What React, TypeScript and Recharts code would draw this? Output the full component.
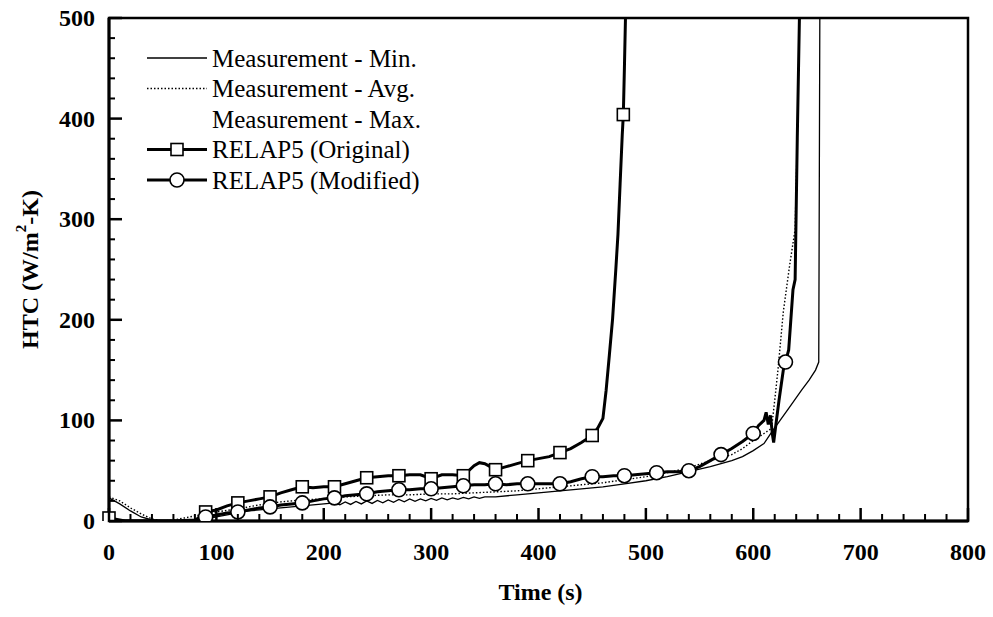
import { ComposedChart, Line, Scatter, XAxis, YAxis, ReferenceArea, Legend } from 'recharts'

const serif = '"Liberation Serif", "Times New Roman", serif'

// tick labels
const xMajorTicks = [0, 100, 200, 300, 400, 500, 600, 700, 800]
const yMajorTicks = [0, 100, 200, 300, 400, 500]
const minorStep = 20

const seriesNames = [
  'Measurement - Min.',
  'Measurement - Avg.',
  'Measurement - Max.',
  'RELAP5 (Original)',
  'RELAP5 (Modified)'
]

// Measurement - Min. (thin solid)
const minTime = [0, 10, 20, 30, 40, 50, 60, 70, 80, 90, 100, 110, 120, 130, 140, 150, 160, 170, 180, 190, 200,
  210, 215, 220, 225, 230, 235, 240, 245, 250, 255, 260, 265, 270, 275, 280, 285, 290, 295, 300, 305, 310, 315,
  320, 325, 330, 335, 340, 345, 350, 360, 380, 400, 420, 440, 460, 480, 500, 520, 540, 560, 580, 590, 600, 610,
  617, 625, 635, 645, 652, 658, 661, 662]
const minHtc = [23, 17, 10, 4, 1, 0, 0, 0, 1, 2, 4, 6, 8, 10, 11, 12, 13, 14, 15, 16, 17,
  18, 16, 19, 16.5, 19.5, 17, 20, 17.5, 20.5, 18, 21, 18.5, 21.5, 19, 22, 19.5, 22, 20, 22.5, 20.5, 23, 21,
  23, 21.5, 23.5, 22, 24, 22.5, 24, 24, 26, 28, 30, 32, 34, 37, 40, 44, 49, 54, 60, 64, 70, 77,
  88, 100, 115, 130, 140, 150, 158, 500]

// Measurement - Avg. (dotted)
const avgTime = [0, 10, 20, 30, 40, 50, 60, 70, 80, 90, 100, 120, 140, 160, 180, 200, 220, 240, 260, 280, 300,
  320, 340, 360, 380, 400, 420, 440, 460, 480, 500, 520, 540, 560, 580, 590, 600, 610, 617, 620, 623, 628, 634,
  639, 641, 643]
const avgHtc = [24, 20, 13, 7, 2, 0, 1, 3, 5, 7, 9, 12, 16, 19, 21, 22, 24, 25, 26, 26, 27,
  27, 28, 29, 30, 32, 34, 36, 38, 41, 44, 48, 53, 60, 66, 72, 80, 87, 92, 120, 150, 208, 255,
  290, 380, 500]

// RELAP5 (Original)
const origTime = [0, 15, 80, 85, 90, 100, 110, 120, 130, 140, 150, 160, 170, 180, 190, 200, 210, 220, 230, 240,
  250, 260, 270, 280, 290, 300, 310, 320, 330, 340, 345, 350, 355, 360, 370, 380, 390, 400, 410, 420, 430, 440,
  450, 455, 460, 463, 466, 469, 472, 474, 476, 478, 479, 480, 481]
const origHtc = [3, 0, 0, 5, 9, 11, 15, 18, 20, 22, 24, 28, 31, 34, 33, 34, 34, 37, 40, 43,
  44, 45, 45, 46, 46, 42, 46, 46, 45, 55, 58, 57, 54, 51, 54, 57, 60, 62, 64, 68, 72, 78,
  85, 92, 102, 130, 165, 201, 250, 285, 335, 384, 404, 450, 500]
const origMarkTime = [0, 90, 120, 150, 180, 210, 240, 270, 300, 330, 360, 390, 420, 450, 479]
const origMarkHtc = [3, 9, 18, 24, 34, 34, 43, 45, 42, 45, 51, 60, 68, 85, 404]

// RELAP5 (Modified)
const modTime = [0, 60, 80, 90, 100, 110, 120, 130, 140, 150, 160, 170, 180, 190, 200, 210, 220, 230, 240, 250,
  260, 270, 280, 290, 300, 310, 320, 330, 340, 350, 360, 370, 380, 390, 400, 410, 420, 430, 440, 450, 460, 470,
  480, 490, 500, 510, 520, 530, 540, 550, 560, 570, 580, 590, 600, 605, 610, 612, 614, 616, 618, 619, 621, 624,
  628, 630, 633, 635, 637, 639, 641, 643]
const modHtc = [0, 0, 1, 4, 6, 8, 9, 11, 13, 14, 16, 17, 18, 20, 22, 23, 25, 26, 27, 29,
  30, 31, 31, 32, 32, 33, 34, 35, 36, 36, 37, 36, 37, 37, 37, 37, 37, 39, 42, 44, 44, 45,
  45, 46, 47, 48, 49, 49, 50, 54, 60, 66, 72, 79, 87, 95, 100, 108, 96, 105, 85, 78, 95, 120,
  150, 158, 170, 200, 230, 240, 380, 500]
const modMarkTime = [90, 120, 150, 180, 210, 240, 270, 300, 330, 360, 390, 420, 450, 480, 510, 540, 570, 600, 630]
const modMarkHtc = [4, 9, 14, 18, 23, 27, 31, 32, 35, 37, 37, 37, 44, 45, 48, 50, 66, 87, 158]

const zip = (t: number[], v: number[]) => t.map((time, i) => ({ t: time, v: v[i] }))

function withMinor(major: number[]) {
  const out: number[] = []
  for (let i = 0; i < major.length - 1; i++) {
    for (let v = major[i]; v < major[i + 1]; v += minorStep) out.push(v)
  }
  out.push(major[major.length - 1])
  return out
}

function TimeTick({ x, y, payload }: any) {
  const major = xMajorTicks.includes(payload.value)
  return (
    <g>
      <line x1={x} x2={x} y1={y} y2={y - (major ? 13 : 7)} stroke="#000" strokeWidth={major ? 2.5 : 2} />
      {major && (
        <text x={x} y={y + 31} textAnchor="middle" dominantBaseline="central"
          fontFamily={serif} fontWeight="bold" fontSize={24} fill="#000">
          {payload.value}
        </text>
      )}
    </g>
  )
}

function HtcTick({ x, y, payload }: any) {
  const major = yMajorTicks.includes(payload.value)
  return (
    <g>
      <line x1={x} x2={x + (major ? 13 : 6)} y1={y} y2={y} stroke="#000" strokeWidth={major ? 2.5 : 2} />
      {major && (
        <text x={x - 14} y={y} textAnchor="end" dominantBaseline="central"
          fontFamily={serif} fontWeight="bold" fontSize={24} fill="#000">
          {payload.value}
        </text>
      )}
    </g>
  )
}

function TimeTitle({ viewBox }: any) {
  return (
    <text x={viewBox.x + viewBox.width / 2 + 2} y={viewBox.y + 71} textAnchor="middle" dominantBaseline="central"
      fontFamily={serif} fontWeight="bold" fontSize={24} fill="#000">
      Time (s)
    </text>
  )
}

function HtcTitle({ viewBox }: any) {
  const cx = viewBox.x + viewBox.width - 79
  const cy = viewBox.y + viewBox.height / 2
  return (
    <text x={cx} y={cy} transform={`rotate(-90 ${cx} ${cy})`} textAnchor="middle" dominantBaseline="central"
      fontFamily={serif} fontWeight="bold" fontSize={24} fill="#000">
      HTC (W/m<tspan dy={-9} fontSize={15}>2</tspan><tspan dy={9}>-K)</tspan>
    </text>
  )
}

function LegendBox() {
  const rowY = (i: number) => 12 + i * 30.5
  return (
    <svg width={330} height={160}>
      {seriesNames.map((name, i) => {
        const y = rowY(i)
        return (
          <g key={name}>
            {i === 0 && <line x1={2} x2={62} y1={y} y2={y} stroke="#000" strokeWidth={1.3} />}
            {i === 1 && <line x1={2} x2={62} y1={y} y2={y} stroke="#000" strokeWidth={1.4} strokeDasharray="1.5 2" />}
            {i === 3 && (
              <g>
                <line x1={2} x2={62} y1={y} y2={y} stroke="#000" strokeWidth={3} />
                <rect x={26} y={y - 6} width={12} height={12} fill="#fff" stroke="#000" strokeWidth={1.6} />
              </g>
            )}
            {i === 4 && (
              <g>
                <line x1={2} x2={62} y1={y} y2={y} stroke="#000" strokeWidth={3} />
                <circle cx={32} cy={y} r={7} fill="#fff" stroke="#000" strokeWidth={1.6} />
              </g>
            )}
            <text x={67} y={y} dominantBaseline="central" fontFamily={serif} fontSize={25} fill="#000">
              {name}
            </text>
          </g>
        )
      })}
    </svg>
  )
}

const squareShape = (p: any) => (
  <rect x={p.cx - 6} y={p.cy - 6} width={12} height={12} fill="#fff" stroke="#000" strokeWidth={1.6} />
)
const circleShape = (p: any) => (
  <circle cx={p.cx} cy={p.cy} r={7} fill="#fff" stroke="#000" strokeWidth={1.6} />
)

export default function App() {
  return (
    <div style={{ position: 'absolute', left: 0, top: 0, width: 993, height: 617, background: '#fff' }}>
      <ComposedChart width={993} height={617} margin={{ top: 18, right: 25, bottom: 26, left: 39 }}>
        <XAxis
          type="number"
          dataKey="t"
          domain={[0, 800]}
          ticks={withMinor(xMajorTicks)}
          interval={0}
          tickSize={0}
          tickMargin={0}
          tick={<TimeTick />}
          height={70}
          axisLine={{ stroke: '#000', strokeWidth: 3 }}
          tickLine={false}
          label={<TimeTitle />}
        />
        <YAxis
          type="number"
          domain={[0, 500]}
          ticks={withMinor(yMajorTicks)}
          interval={0}
          tickSize={0}
          tickMargin={0}
          tick={<HtcTick />}
          width={70}
          axisLine={{ stroke: '#000', strokeWidth: 3 }}
          tickLine={false}
          allowDataOverflow
          label={<HtcTitle />}
        />
        <ReferenceArea x1={0} x2={800} y1={0} y2={500} fill="none" stroke="#000" strokeWidth={2.5} />
        <Line data={zip(minTime, minHtc)} dataKey="v" stroke="#000" strokeWidth={1.3} dot={false}
          isAnimationActive={false} name={seriesNames[0]} />
        <Line data={zip(avgTime, avgHtc)} dataKey="v" stroke="#000" strokeWidth={1.4} strokeDasharray="1.5 2"
          dot={false} isAnimationActive={false} name={seriesNames[1]} />
        <Line data={zip(origTime, origHtc)} dataKey="v" stroke="#000" strokeWidth={3} dot={false}
          isAnimationActive={false} name={seriesNames[3]} />
        <Line data={zip(modTime, modHtc)} dataKey="v" stroke="#000" strokeWidth={3} dot={false}
          isAnimationActive={false} name={seriesNames[4]} />
        <Scatter data={zip(origMarkTime, origMarkHtc)} dataKey="v" shape={squareShape} isAnimationActive={false} />
        <Scatter data={zip(modMarkTime, modMarkHtc)} dataKey="v" shape={circleShape} isAnimationActive={false} />
        <Legend
          layout="vertical"
          align="center"
          verticalAlign="middle"
          content={() => <LegendBox />}
          wrapperStyle={{ top: 46, left: 145, width: 330 }}
        />
      </ComposedChart>
    </div>
  )
}
